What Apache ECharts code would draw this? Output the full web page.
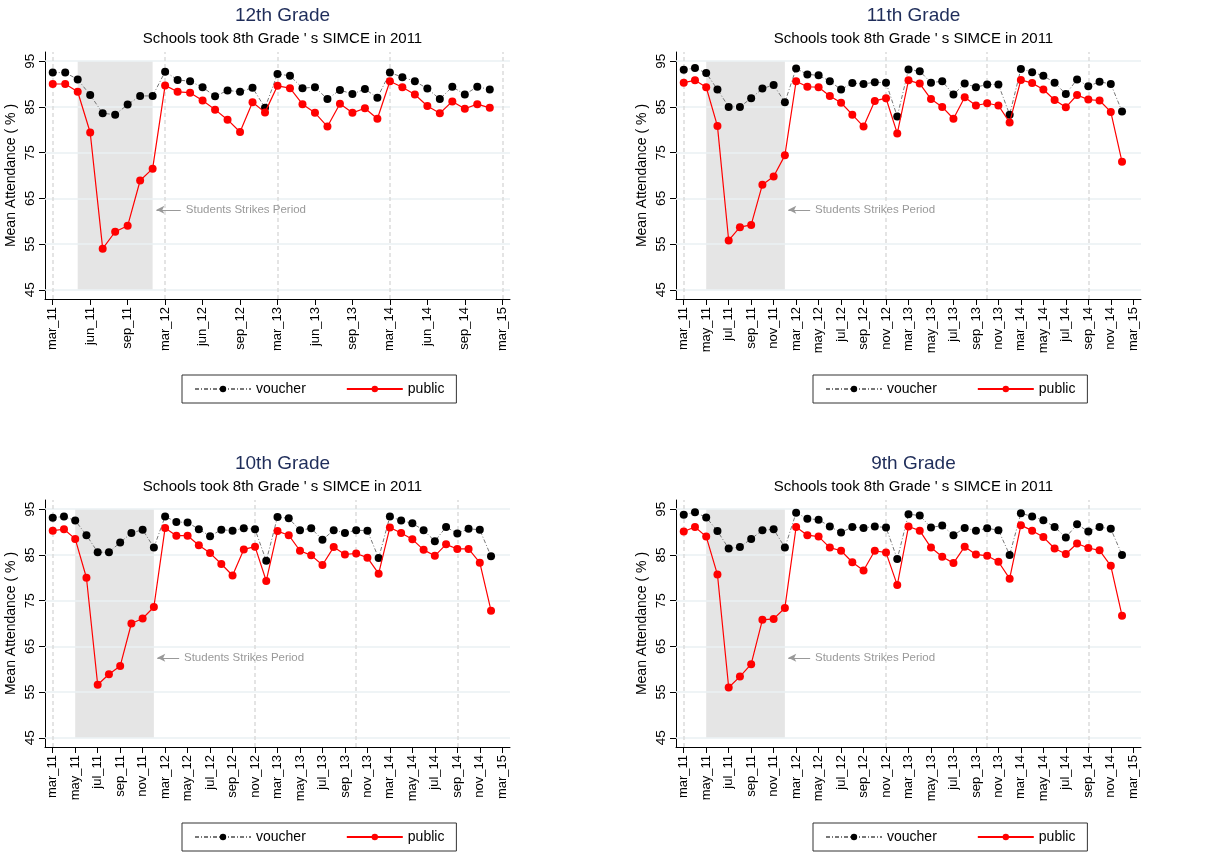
<!DOCTYPE html>
<html>
<head>
<meta charset="utf-8">
<script src="https://cdn.jsdelivr.net/npm/echarts@6/dist/echarts.min.js"></script>
<style>html,body{margin:0;padding:0;background:#fff}#main{width:1213px;height:852px}</style>
</head>
<body>
<div id="main"></div>
<script>
// 12th grade: 9 months per year (mar..nov)
var g12Voucher = [92.5,92.5,91.0,87.6,83.6,83.3,85.5,87.4,87.4, 92.7,90.9,90.6,89.3,87.3,88.6,88.3,89.2,84.8, 92.2,91.8,89.1,89.3,86.7,88.7,87.8,88.9,87.0, 92.5,91.5,90.6,89.0,86.7,89.4,87.7,89.4,88.8];
var g12Public  = [90.0,90.0,88.3,79.4,54.0,57.7,59.0,68.9,71.5, 89.7,88.3,88.1,86.4,84.4,82.2,79.5,86.0,83.8, 89.6,89.1,85.6,83.7,80.7,85.7,83.7,84.7,82.4, 90.6,89.3,87.7,85.2,83.6,86.2,84.6,85.6,84.8];
// 11th, 10th, 9th grade: 10 months per year (mar..dec)
var g11Voucher = [93.1,93.5,92.4,88.8,85.0,85.0,86.9,89.0,89.8,86.0, 93.4,92.1,91.9,90.6,88.8,90.2,90.0,90.4,90.3,82.9, 93.2,92.8,90.3,90.6,87.7,90.1,89.3,89.9,89.9,83.3, 93.3,92.6,91.8,90.3,87.8,91.0,89.5,90.5,90.0,84.0];
var g11Public  = [90.3,90.8,89.3,80.8,55.8,58.7,59.2,68.0,69.8,74.4, 90.6,89.4,89.3,87.4,85.9,83.3,80.7,86.3,86.9,79.2, 90.8,90.1,86.7,85.0,82.4,87.1,85.3,85.8,85.3,81.6, 90.9,90.2,88.8,86.5,84.9,87.6,86.6,86.4,83.9,73.0];
var g10Voucher = [93.1,93.4,92.5,89.3,85.6,85.6,87.7,89.8,90.5,86.6, 93.4,92.2,92.1,90.6,89.1,90.5,90.3,90.8,90.6,83.7, 93.3,93.0,90.4,90.8,88.3,90.4,89.8,90.4,90.3,84.3, 93.4,92.5,91.9,90.4,88.0,91.1,89.7,90.7,90.5,84.7];
var g10Public  = [90.3,90.6,88.5,80.0,56.6,58.9,60.7,70.0,71.1,73.6, 90.9,89.2,89.2,87.1,85.4,83.0,80.5,86.2,86.8,79.3, 90.2,89.3,85.9,84.9,82.8,86.7,85.1,85.3,84.4,80.9, 91.0,89.8,88.4,86.1,84.8,87.3,86.3,86.3,83.3,72.8];
var g9Voucher  = [93.8,94.3,93.2,90.2,86.4,86.7,88.5,90.4,90.6,86.6, 94.2,92.9,92.7,91.2,89.9,91.1,90.9,91.2,91.0,84.1, 93.9,93.6,91.0,91.4,89.3,90.9,90.3,90.8,90.4,85.0, 94.1,93.4,92.6,91.1,88.8,91.7,90.1,91.1,90.7,85.0];
var g9Public   = [90.1,91.1,89.0,80.7,56.0,58.4,61.1,70.8,71.0,73.4, 91.1,89.3,89.0,86.6,85.9,83.4,81.6,85.9,85.5,78.4, 91.2,90.3,86.6,84.6,83.2,86.8,85.1,84.8,83.5,79.8, 91.5,90.3,88.9,86.4,85.2,87.5,86.5,86.0,82.6,71.7];

var yTicks = [45,55,65,75,85,95];
var years = ['11','12','13','14'];
var months9Ticks = ['mar','jun','sep'];      // every 3 points
var months10Ticks = ['mar','may','jul','sep','nov']; // every 2 points
var vlines9 = [0,9,18,27,36];
var vlines10 = [0,18,27,36];

function tickLabels(names) {
  var out = [];
  years.forEach(function (y) { names.forEach(function (m) { out.push(m + '_' + y); }); });
  out.push('mar_15');
  return out;
}

var panels = [
  {title:'12th Grade', v:g12Voucher, p:g12Public, left:45, top:52, step:3, per:9, labels:tickLabels(months9Ticks), strike:[2,8], vl:vlines9},
  {title:'11th Grade', v:g11Voucher, p:g11Public, left:676, top:52, step:2, per:10, labels:tickLabels(months10Ticks), strike:[2,9], vl:vlines10},
  {title:'10th Grade', v:g10Voucher, p:g10Public, left:45, top:500, step:2, per:10, labels:tickLabels(months10Ticks), strike:[2,9], vl:vlines10},
  {title:'9th Grade', v:g9Voucher, p:g9Public, left:676, top:500, step:2, per:10, labels:tickLabels(months10Ticks), strike:[2,9], vl:vlines10}
];

var W = 465, H = 247;
var option = {animation:false, textStyle:{fontFamily:'Liberation Sans, Arial, sans-serif'},
  title:[], grid:[], xAxis:[], yAxis:[], series:[], legend:[]};

panels.forEach(function (pn, i) {
  var xmax = years.length * pn.per;
  var pad = 8 * xmax / W;
  var ticks = [];
  for (var k = 0; k <= xmax; k += pn.step) ticks.push(k);
  var cx = pn.left + W / 2;
  option.title.push({text:pn.title, subtext:"Schools took 8th Grade ' s SIMCE in 2011",
    left:cx, textAlign:'center', top:pn.top - 51, itemGap:6,
    textStyle:{color:'#1f2d5a', fontSize:19, fontWeight:'normal'},
    subtextStyle:{color:'#000', fontSize:15}});
  option.grid.push({left:pn.left, top:pn.top, width:W, height:H});
  option.xAxis.push({type:'value', gridIndex:i, min:-pad, max:xmax + pad,
    axisLine:{show:true, onZero:false, lineStyle:{color:'#000'}},
    axisTick:{show:true, customValues:ticks, length:6, lineStyle:{color:'#000'}},
    axisLabel:{customValues:ticks, rotate:90, color:'#000', fontSize:13, margin:8,
      formatter:function (val) { return pn.labels[Math.round(val / pn.step)]; }},
    splitLine:{show:false}});
  option.yAxis.push({type:'value', gridIndex:i, min:43, max:97,
    name:'Mean Attendance ( % )', nameLocation:'middle', nameGap:27, nameTextStyle:{color:'#000', fontSize:14},
    axisLine:{show:true, onZero:false, lineStyle:{color:'#000'}},
    axisTick:{show:true, customValues:yTicks, length:6, lineStyle:{color:'#000'}},
    axisLabel:{customValues:yTicks, rotate:90, color:'#000', fontSize:13.5, margin:8},
    splitLine:{show:false}});
  var vData = pn.v.map(function (y, k) { return [k, y]; });
  var pData = pn.p.map(function (y, k) { return [k, y]; });
  var gridLines = yTicks.map(function (t) { return {yAxis:t}; })
    .concat(pn.vl.map(function (t) { return {xAxis:t, lineStyle:{color:'#dcdcdc', type:[4,3]}}; }));
  option.series.push({name:'voucher', type:'line', xAxisIndex:i, yAxisIndex:i, data:vData, z:3,
    symbol:'circle', symbolSize:8, itemStyle:{color:'#000'},
    lineStyle:{color:'#777', width:1, type:[4,2,1,2]},
    markArea:{silent:true, itemStyle:{color:'#e5e5e5'}, z:1,
      data:[[{coord:[pn.strike[0], 45]}, {coord:[pn.strike[1], 95]}]]},
    markLine:{silent:true, symbol:'none', label:{show:false}, z:1,
      lineStyle:{color:'#eaf0f3', type:'solid', width:1.5}, data:gridLines}});
  option.series.push({name:'public', type:'line', xAxisIndex:i, yAxisIndex:i, data:pData, z:4,
    symbol:'circle', symbolSize:8, itemStyle:{color:'#ff0000'},
    lineStyle:{color:'#ff0000', width:1.2},
    markLine:{silent:true, symbol:['none','arrow'], symbolSize:[6,8], label:{show:false},
      lineStyle:{color:'#999', type:'solid', width:1},
      data:[[{coord:[pn.strike[1] + 2.25, 62.5]}, {coord:[pn.strike[1] + 0.3, 62.5]}]]},
    markPoint:{silent:true, symbol:'circle', symbolSize:0,
      label:{show:true, position:'right', distance:2, color:'#999', fontSize:11.5, formatter:'Students Strikes Period'},
      data:[{coord:[pn.strike[1] + 2.5, 62.5]}]}});
  option.legend.push({data:['voucher','public'], left:pn.left + 137, top:pn.top + 323,
    width:265, height:29, itemWidth:56, itemHeight:8, itemGap:40, padding:[7,12],
    borderColor:'#333', borderWidth:1, textStyle:{color:'#000', fontSize:14}});
});

var myChart = echarts.init(document.getElementById('main'));
myChart.setOption(option);
</script>
</body>
</html>
